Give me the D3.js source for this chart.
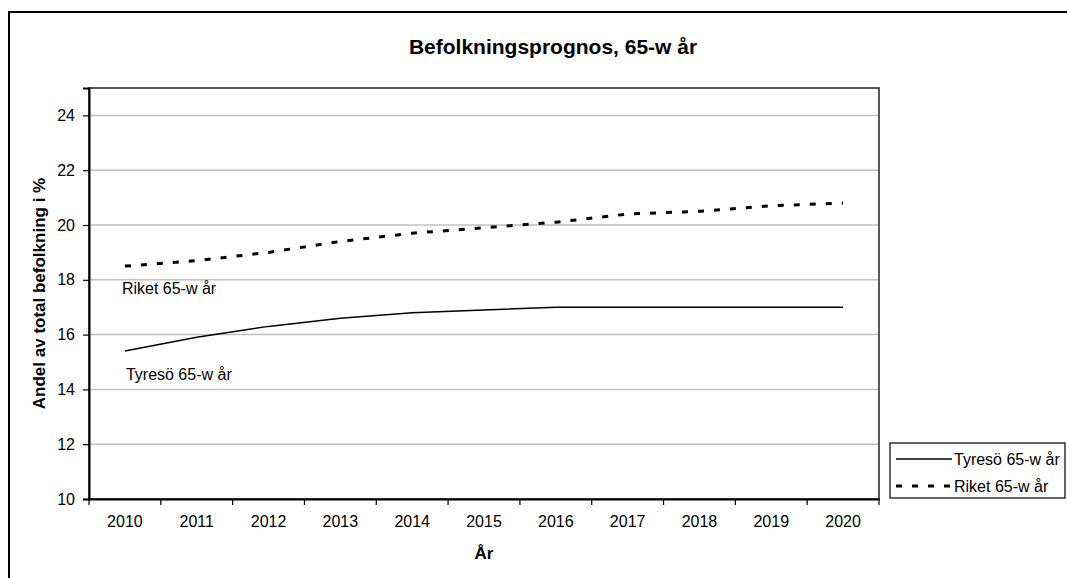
<!DOCTYPE html>
<html><head><meta charset="utf-8">
<script src="https://d3js.org/d3.v7.min.js"></script>
<style>
body{margin:0;background:#fff;}
text{font-family:"Liberation Sans",Arial,sans-serif;fill:#000;}
</style></head><body>
<script>
const years = ["2010","2011","2012","2013","2014","2015","2016","2017","2018","2019","2020"];
const tyreso = [15.4,15.9,16.3,16.6,16.8,16.9,17.0,17.0,17.0,17.0,17.0];
const riket = [18.5,18.7,19.0,19.4,19.7,19.9,20.1,20.4,20.5,20.7,20.8];
const yTicks = [10,12,14,16,18,20,22,24];
const seriesNames = ["Tyresö 65-w år","Riket 65-w år"];
const title = "Befolkningsprognos, 65-w år";
const yTitle = "Andel av total befolkning i %";
const xTitle = "År";

const W=1067,H=578;
const svg=d3.select("body").append("svg").attr("width",W).attr("height",H);
const m={l:89,r:879,t:88,b:499};
const x=d3.scaleBand().domain(years).range([m.l,m.r]).padding(0);
const y=d3.scaleLinear().domain([10,25]).range([m.b,m.t]);

// outer frame
svg.append("rect").attr("x",9).attr("y",12).attr("width",1200).attr("height",700)
  .attr("fill","none").attr("stroke","#000").attr("stroke-width",2);

// grid
svg.append("g").selectAll("line").data(yTicks.slice(1)).join("line")
  .attr("x1",m.l).attr("x2",m.r).attr("y1",d=>y(d)).attr("y2",d=>y(d))
  .attr("stroke","#c0c0c0").attr("stroke-width",1.5);

// plot border
svg.append("rect").attr("x",m.l).attr("y",m.t).attr("width",m.r-m.l).attr("height",m.b-m.t)
  .attr("fill","none").attr("stroke","#222").attr("stroke-width",1.5);

// y axis
const ya=svg.append("g").attr("transform",`translate(${m.l},0)`)
  .call(d3.axisLeft(y).tickValues(yTicks).tickSize(6).tickPadding(8));
ya.select(".domain").attr("stroke","#000").attr("stroke-width",2);
ya.selectAll(".tick line").attr("stroke","#000").attr("stroke-width",1.2);
ya.selectAll("text").attr("font-size",16).attr("font-family","Liberation Sans, Arial, sans-serif");

// x axis
const xa=svg.append("g").attr("transform",`translate(0,${m.b})`)
  .call(d3.axisBottom(x).tickSize(0).tickPadding(17));
xa.select(".domain").attr("stroke","#000").attr("stroke-width",2);
xa.selectAll("text").attr("font-size",16).attr("font-family","Liberation Sans, Arial, sans-serif");
const bounds=years.map(d=>x(d)).concat([x(years[years.length-1])+x.bandwidth()]);
xa.selectAll("line.b").data(bounds).join("line").attr("class","b")
  .attr("x1",d=>d).attr("x2",d=>d).attr("y1",0).attr("y2",6)
  .attr("stroke","#000").attr("stroke-width",1.2);

// lines
const cx=d=>x(d)+x.bandwidth()/2;
const line=d3.line().x((d,i)=>cx(years[i])).y(d=>y(d));
svg.append("path").datum(tyreso).attr("d",line).attr("fill","none")
  .attr("stroke","#000").attr("stroke-width",1.5);
svg.append("path").datum(riket).attr("d",line).attr("fill","none")
  .attr("stroke","#000").attr("stroke-width",3).attr("stroke-dasharray","6,10");

// data labels
svg.append("text").attr("x",cx(years[0])-3).attr("y",y(riket[0])+28)
  .attr("font-size",16).text(seriesNames[1]);
svg.append("text").attr("x",cx(years[0])+1).attr("y",y(tyreso[0])+29)
  .attr("font-size",16).text(seriesNames[0]);

// titles
svg.append("text").attr("x",553).attr("y",54).attr("text-anchor","middle")
  .attr("font-size",21).attr("font-weight","bold").text(title);
svg.append("text").attr("transform",`translate(45,${(m.t+m.b)/2}) rotate(-90)`)
  .attr("text-anchor","middle").attr("font-size",17).attr("font-weight","bold").text(yTitle);
svg.append("text").attr("x",(m.l+m.r)/2).attr("y",559).attr("text-anchor","middle")
  .attr("font-size",17).attr("font-weight","bold").text(xTitle);

// legend
const lg=svg.append("g");
lg.append("rect").attr("x",890).attr("y",443).attr("width",175).attr("height",55)
  .attr("fill","#fff").attr("stroke","#000").attr("stroke-width",1.2);
const items=[{n:seriesNames[0],w:1.5,da:null},{n:seriesNames[1],w:3,da:"6,10"}];
items.forEach((it,i)=>{
  const yy=459+i*27;
  lg.append("line").attr("x1",896).attr("x2",952).attr("y1",yy).attr("y2",yy)
    .attr("stroke","#000").attr("stroke-width",it.w).attr("stroke-dasharray",it.da);
  lg.append("text").attr("x",954).attr("y",yy+6).attr("font-size",16).text(it.n);
});
</script>
</body></html>
